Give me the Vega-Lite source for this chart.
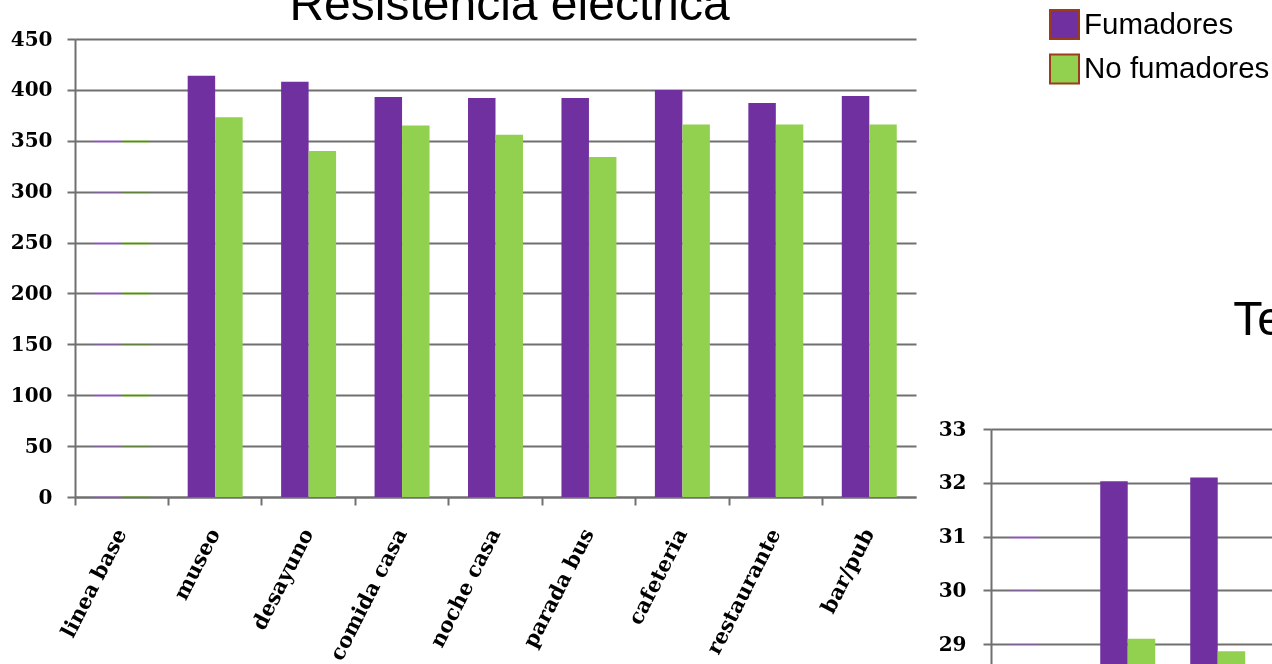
{
  "$schema": "https://vega.github.io/schema/vega-lite/v6.json",
  "padding": {"left": 10, "top": -18, "right": 0, "bottom": 0},
  "background": "white",
  "datasets": {
    "resistencia": [
      {"lugar": "linea base", "grupo": "Fumadores", "valor": 370},
      {"lugar": "linea base", "grupo": "No fumadores", "valor": 360},
      {"lugar": "museo", "grupo": "Fumadores", "valor": 414},
      {"lugar": "museo", "grupo": "No fumadores", "valor": 373},
      {"lugar": "desayuno", "grupo": "Fumadores", "valor": 408},
      {"lugar": "desayuno", "grupo": "No fumadores", "valor": 340},
      {"lugar": "comida casa", "grupo": "Fumadores", "valor": 393},
      {"lugar": "comida casa", "grupo": "No fumadores", "valor": 365},
      {"lugar": "noche casa", "grupo": "Fumadores", "valor": 392},
      {"lugar": "noche casa", "grupo": "No fumadores", "valor": 356},
      {"lugar": "parada bus", "grupo": "Fumadores", "valor": 392},
      {"lugar": "parada bus", "grupo": "No fumadores", "valor": 334},
      {"lugar": "cafeteria", "grupo": "Fumadores", "valor": 400},
      {"lugar": "cafeteria", "grupo": "No fumadores", "valor": 366},
      {"lugar": "restaurante", "grupo": "Fumadores", "valor": 387},
      {"lugar": "restaurante", "grupo": "No fumadores", "valor": 366},
      {"lugar": "bar/pub", "grupo": "Fumadores", "valor": 394},
      {"lugar": "bar/pub", "grupo": "No fumadores", "valor": 366}
    ],
    "temperatura": [
      {"lugar": "linea base", "grupo": "Fumadores", "valor": 31.5},
      {"lugar": "linea base", "grupo": "No fumadores", "valor": 28.5},
      {"lugar": "museo", "grupo": "Fumadores", "valor": 32.03},
      {"lugar": "museo", "grupo": "No fumadores", "valor": 29.1},
      {"lugar": "desayuno", "grupo": "Fumadores", "valor": 32.1},
      {"lugar": "desayuno", "grupo": "No fumadores", "valor": 28.87}
    ]
  },
  "config": {
    "view": {"stroke": null},
    "axis": {
      "domainColor": "#707070", "domainWidth": 2,
      "tickColor": "#707070", "tickWidth": 2, "tickSize": 8,
      "gridColor": "#707070", "gridWidth": 2, "gridOpacity": 1,
      "labelColor": "black", "labelFont": "DejaVu Serif", "labelFontWeight": "bold"
    }
  },
  "bounds": "flush",
  "spacing": 75,
  "hconcat": [
    {
      "width": 841,
      "height": 458,
      "title": {"text": "Resistencia eléctrica", "font": "Liberation Sans", "fontSize": 48, "fontWeight": "normal", "color": "black", "anchor": "middle", "baseline": "alphabetic", "offset": -39, "dx": 14},
      "data": {"name": "resistencia"},
      "encoding": {
        "x": {
          "field": "lugar", "type": "nominal", "sort": null,
          "scale": {"domain": ["linea base", "museo", "desayuno", "comida casa", "noche casa", "parada bus", "cafeteria", "restaurante", "bar/pub"], "paddingInner": 0, "paddingOuter": 0},
          "axis": {"title": null, "bandPosition": 0, "grid": false, "labelAngle": -63, "labelAlign": "right", "labelBaseline": "middle", "labelFontSize": 21, "labelPadding": 25, "labelOffset": 0, "labelOverlap": false, "labelLimit": 400}
        },
        "xOffset": {"field": "grupo", "type": "nominal", "sort": ["Fumadores", "No fumadores"], "scale": {"paddingInner": 0, "paddingOuter": 0.7}},
        "y": {
          "field": "valor", "type": "quantitative",
          "scale": {"domain": [0, 450]},
          "axis": {"title": null, "values": [0, 50, 100, 150, 200, 250, 300, 350, 400, 450], "grid": true, "labelFontSize": 20, "labelPadding": 15, "labelOverlap": false}
        },
        "color": {
          "field": "grupo", "type": "nominal",
          "scale": {"domain": ["Fumadores", "No fumadores"], "range": ["#7030A0", "#92D050"]},
          "legend": {"title": null, "orient": "none", "legendX": 974, "legendY": -30, "symbolType": "square", "symbolSize": 841, "symbolStrokeColor": "#9C3D1A", "symbolStrokeWidth": 2, "symbolOpacity": 1, "labelFont": "Liberation Sans", "labelFontSize": 29.5, "labelColor": "black", "labelOffset": 4, "rowPadding": 7.5, "padding": 0, "labelLimit": 400,
            "encode": {"symbols": {"update": {"stroke": {"value": "#9C3D1A"}, "strokeWidth": {"value": 2}}}}}
        }
      },
      "layer": [
        {"transform": [{"filter": "datum.lugar !== 'linea base'"}], "mark": {"type": "bar"}},
        {"transform": [{"filter": "datum.lugar === 'linea base'"}], "mark": {"type": "bar", "blend": "color", "opacity": 0.5}}
      ]
    },
    {
      "bounds": "flush",
      "spacing": 10,
      "vconcat": [
        {"width": 10, "height": 380, "data": {"values": []}, "mark": "point"},
        {
          "width": 810,
          "height": 269,
          "title": {"text": "Temperatura corporal", "font": "Liberation Sans", "fontSize": 48, "fontWeight": "normal", "color": "black", "anchor": "start", "baseline": "alphabetic", "offset": 36, "dx": 295},
          "data": {"name": "temperatura"},
          "encoding": {
            "x": {
              "field": "lugar", "type": "nominal", "sort": null,
              "scale": {"domain": ["linea base", "museo", "desayuno", "comida casa", "noche casa", "parada bus", "cafeteria", "restaurante", "bar/pub"], "paddingInner": 0, "paddingOuter": 0},
              "axis": {"title": null, "bandPosition": 0, "grid": false, "labelAngle": -63, "labelAlign": "right", "labelBaseline": "middle", "labelFontSize": 21, "labelPadding": 25, "labelOffset": 0, "labelOverlap": false, "labelLimit": 400}
            },
            "xOffset": {"field": "grupo", "type": "nominal", "sort": ["Fumadores", "No fumadores"], "scale": {"paddingInner": 0, "paddingOuter": 0.67}},
            "y": {
              "field": "valor", "type": "quantitative",
              "scale": {"domain": [28, 33], "zero": false},
              "axis": {"title": null, "values": [28, 29, 30, 31, 32, 33], "grid": true, "labelFontSize": 20, "labelPadding": 17, "labelOverlap": false}
            },
            "y2": {"datum": 28},
            "color": {
              "field": "grupo", "type": "nominal",
              "scale": {"domain": ["Fumadores", "No fumadores"], "range": ["#7030A0", "#92D050"]},
              "legend": {"title": null, "orient": "none", "legendX": 974, "legendY": -30, "symbolType": "square", "symbolSize": 841, "symbolStrokeColor": "#9C3D1A", "symbolStrokeWidth": 2, "symbolOpacity": 1, "labelFont": "Liberation Sans", "labelFontSize": 29.5, "labelColor": "black", "labelOffset": 4, "rowPadding": 7.5, "padding": 0, "labelLimit": 400,
                "encode": {"symbols": {"update": {"stroke": {"value": "#9C3D1A"}, "strokeWidth": {"value": 2}}}}}
            }
          },
          "layer": [
            {"transform": [{"filter": "datum.lugar !== 'linea base'"}], "mark": {"type": "bar"}},
            {"transform": [{"filter": "datum.lugar === 'linea base'"}], "mark": {"type": "bar", "blend": "color", "opacity": 0.5}}
          ]
        }
      ]
    }
  ]
}
